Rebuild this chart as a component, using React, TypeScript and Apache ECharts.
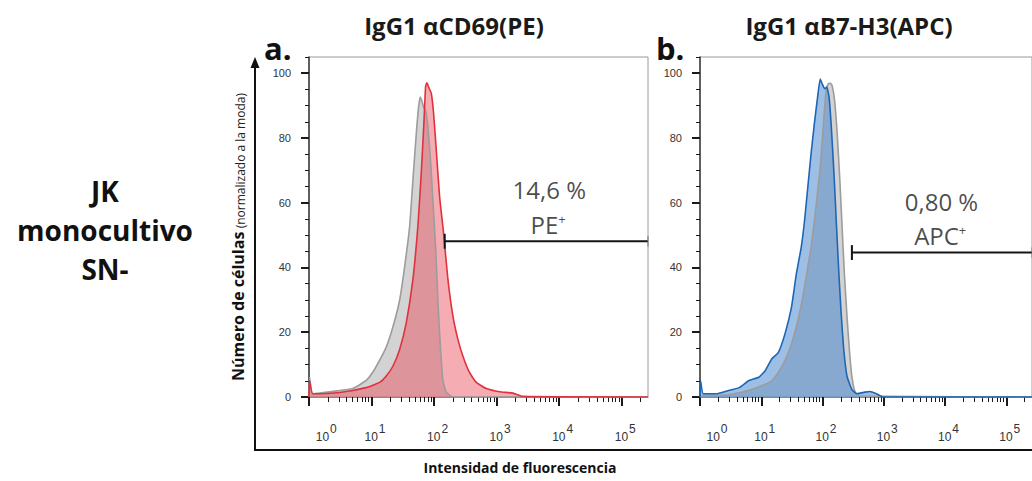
import React, { useEffect, useRef } from "react";
import * as echarts from "echarts";

// ---- data (x in log-decade display units, y in % of mode) ----
const X_MAX = 5.42;
const Y_MAX = 105;
const xMajorTicks = [0, 1, 2, 3, 4, 5];
const xLabelPositions = [0.22, 1, 2, 3, 4, 5];
const xExponents = ["0", "1", "2", "3", "4", "5"];
const yMajorTicks = [0, 20, 40, 60, 80, 100];
const yMinorTicks = [5, 10, 15, 25, 30, 35, 45, 50, 55, 65, 70, 75, 85, 90, 95, 105];
const minorMultipliers = [2, 3, 4, 5, 6, 7, 8, 9];

// Panel a: IgG1 aCD69(PE)
const redAX = [0, 0.01, 0.06, 0.49, 0.915, 1.128, 1.235, 1.341, 1.448, 1.555, 1.661, 1.741, 1.795, 1.837, 1.864, 1.885, 1.917, 1.955, 1.992, 2.035, 2.088, 2.152, 2.221, 2.301, 2.381, 2.461, 2.568, 2.675, 2.835, 3.048, 3.261, 3.421, 5.42];
const redAY = [0, 5, 1, 1.4, 2.9, 4.5, 6.5, 9.5, 14.6, 22.9, 36.3, 52.8, 69.2, 84.6, 95.9, 97, 95.5, 93.8, 87.6, 76.3, 61.9, 50.6, 36.3, 25, 17.8, 12.6, 7.5, 4.5, 2.6, 1.6, 1.2, 0.2, 0];
const grayAX = [0, 0.01, 0.06, 0.49, 0.701, 0.915, 1.021, 1.128, 1.235, 1.341, 1.448, 1.528, 1.608, 1.661, 1.715, 1.752, 1.779, 1.811, 1.832, 1.864, 1.901, 1.939, 1.981, 2.024, 2.061, 2.088, 2.115, 2.141, 2.195, 2.301, 5.42];
const grayAY = [0, 6, 1, 2, 2.6, 5.1, 7.7, 11.3, 15.4, 21.6, 29.8, 40.1, 52.5, 66.9, 81.3, 89.5, 92.6, 91, 89.5, 88.5, 83.3, 74.1, 60.7, 46.3, 29.8, 19.5, 11.3, 5.1, 1.5, 0, 0];

// Panel b: IgG1 aB7-H3(APC)
const blueBX = [0, 0.01, 0.053, 0.267, 0.427, 0.64, 0.8, 0.96, 1.067, 1.173, 1.28, 1.387, 1.493, 1.573, 1.653, 1.707, 1.76, 1.813, 1.867, 1.92, 1.963, 2.0, 2.037, 2.069, 2.107, 2.144, 2.187, 2.229, 2.267, 2.304, 2.347, 2.4, 2.48, 2.56, 2.693, 2.773, 2.88, 2.987, 5.42];
const blueBY = [0, 5, 1, 1, 1.8, 2.9, 5.1, 6.1, 8.2, 11.8, 13.8, 19.5, 27.7, 38, 46.3, 54.5, 64.8, 75.1, 84.4, 92.6, 98.2, 96.5, 95.2, 95.7, 92.6, 83.3, 69.1, 52.6, 38.2, 25.9, 14.6, 6.4, 2.3, 1, 1.5, 1.7, 1, 0, 0];
const grayBX = [0, 0.053, 0.427, 0.64, 0.853, 1.067, 1.173, 1.28, 1.387, 1.493, 1.6, 1.707, 1.813, 1.893, 1.963, 2.016, 2.053, 2.091, 2.133, 2.16, 2.197, 2.24, 2.283, 2.32, 2.357, 2.4, 2.443, 2.48, 2.533, 2.613, 3.013, 5.42];
const grayBY = [0, 0.5, 0.6, 1.3, 2.4, 4, 5.1, 7.7, 11.3, 16.4, 23.7, 34, 46.3, 58.6, 71, 84.4, 93.6, 96.7, 96.9, 96, 91.6, 81.3, 66.9, 52.5, 38.1, 24.8, 13.5, 6.2, 1.5, 0.3, 0.2, 0];

// gates
const gateA = { x: [2.17, 5.42], y: 48.1, pct: "14,6 %", marker: "PE", pctPos: [3.85, 63.9], markerPos: [3.83, 53.6] };
const gateB = { x: [2.48, 5.42], y: 44.6, pct: "0,80 %", marker: "APC", pctPos: [3.95, 60.2], markerPos: [3.93, 50.3] };

const titles = ["IgG1 \u03b1CD69(PE)", "IgG1 \u03b1B7-H3(APC)"];
const panelLetters = ["a.", "b."];
const rowLabel = ["JK", "monocultivo", "SN-"];
const yTitleBold = "N\u00famero de c\u00e9lulas";
const yTitleSmall = "(normalizado a la moda)";
const xTitle = "Intensidad de fluorescencia";

const SANS = "'Open Sans', 'Noto Sans', sans-serif";
const ARIAL = "'Liberation Sans', Arial, sans-serif";

const zip = (xs: number[], ys: number[]) => xs.map((x, i) => [x, ys[i]]);

const xMinorTicks: number[] = [];
for (const d of xMajorTicks) {
  for (const m of minorMultipliers) {
    const v = d + Math.log10(m);
    if (v < X_MAX) xMinorTicks.push(v);
  }
}

function xAxes(gridIndex: number) {
  return [
    {
      type: "value", gridIndex, min: 0, max: X_MAX, position: "bottom",
      axisLine: { show: true, onZero: false, lineStyle: { color: "#8a8a8a", width: 1 } },
      axisTick: { show: true, customValues: xMajorTicks, length: 9, lineStyle: { color: "#1a1a1a", width: 2 } },
      axisLabel: {
        show: true, customValues: xLabelPositions, margin: 33,
        formatter: (v: number) => {
          const idx = xLabelPositions.findIndex((p) => Math.abs(p - v) < 1e-6);
          return `{b|10}{s|${xExponents[idx >= 0 ? idx : 0]}}`;
        },
        rich: {
          b: { fontSize: 12, fontFamily: ARIAL, color: "#333", padding: [0, 0, 0, 7], verticalAlign: "bottom", lineHeight: 13 },
          s: { fontSize: 12, fontFamily: ARIAL, color: "#333", padding: [0, 0, 8, 1], verticalAlign: "bottom", lineHeight: 13 },
        },
      },
      splitLine: { show: false },
    },
    {
      type: "value", gridIndex, min: 0, max: X_MAX, position: "bottom",
      axisLine: { show: false, onZero: false },
      axisTick: { show: true, customValues: xMinorTicks, length: 5, lineStyle: { color: "#1a1a1a", width: 1 } },
      axisLabel: { show: false },
      splitLine: { show: false },
    },
  ];
}

function yAxes(gridIndex: number) {
  return [
    {
      type: "value", gridIndex, min: 0, max: Y_MAX, position: "left",
      axisLine: { show: true, onZero: false, lineStyle: { color: "#3a3a3a", width: 1.5 } },
      axisTick: { show: true, customValues: yMajorTicks, length: 8, lineStyle: { color: "#1a1a1a", width: 2 } },
      axisLabel: { show: true, customValues: yMajorTicks, margin: 18, fontSize: 11, fontFamily: ARIAL, color: "#333" },
      splitLine: { show: false },
    },
    {
      type: "value", gridIndex, min: 0, max: Y_MAX, position: "left",
      axisLine: { show: false, onZero: false },
      axisTick: { show: true, customValues: yMinorTicks, length: 4, lineStyle: { color: "#1a1a1a", width: 1 } },
      axisLabel: { show: false },
      splitLine: { show: false },
    },
  ];
}

function histSeries(xi: number, yi: number, data: number[][], fill: string | null, line: string | null) {
  return {
    type: "line", xAxisIndex: xi, yAxisIndex: yi, data, symbol: "none", smooth: 0.15, silent: true,
    lineStyle: line ? { color: line, width: 1.6 } : { width: 0, opacity: 0 },
    areaStyle: fill ? { color: fill, opacity: 1 } : undefined,
  };
}

function gateSeries(xi: number, yi: number, g: typeof gateA) {
  const capH = 2.3;
  return [
    { type: "line", xAxisIndex: xi, yAxisIndex: yi, symbol: "none", silent: true, data: [[g.x[0], g.y], [g.x[1], g.y]], lineStyle: { color: "#151515", width: 2 } },
    { type: "line", xAxisIndex: xi, yAxisIndex: yi, symbol: "none", silent: true, data: [[g.x[0], g.y - capH], [g.x[0], g.y + capH]], lineStyle: { color: "#151515", width: 2 } },
    { type: "line", xAxisIndex: xi, yAxisIndex: yi, symbol: "none", silent: true, data: [[g.x[1], g.y - 1.6], [g.x[1], g.y + 1.6]], lineStyle: { color: "#777", width: 1 } },
    {
      type: "scatter", xAxisIndex: xi, yAxisIndex: yi, symbolSize: 1, silent: true, itemStyle: { color: "rgba(0,0,0,0)" },
      data: [
        { value: g.pctPos, label: { formatter: g.pct } },
        { value: g.markerPos, label: { formatter: `{a|${g.marker}}{s|+}` } },
      ],
      label: {
        show: true, position: [0, 0], align: "center", verticalAlign: "middle",
        fontSize: 24, fontFamily: SANS, color: "#1c1c1c",
        rich: {
          a: { fontSize: 24, fontFamily: SANS, color: "#1c1c1c", verticalAlign: "bottom", lineHeight: 28 },
          s: { fontSize: 13, fontFamily: SANS, color: "#1c1c1c", verticalAlign: "bottom", padding: [0, 0, 11, 0], lineHeight: 14 },
        },
      },
    },
  ];
}

export default function App() {
  const ref = useRef<HTMLDivElement>(null);
  useEffect(() => {
    if (!ref.current) return;
    const chart = echarts.init(ref.current, null, { renderer: "svg" });
    chart.setOption({
      animation: false,
      backgroundColor: "#ffffff",
      grid: [
        { left: 309, top: 57, right: 384, bottom: 84, show: true, borderColor: "#9a9a9a", borderWidth: 1 },
        { left: 700, top: 57, right: -7, bottom: 84, show: true, borderColor: "#9a9a9a", borderWidth: 1 },
      ],
      xAxis: [...xAxes(0), ...xAxes(1)],
      yAxis: [...yAxes(0), ...yAxes(1)],
      series: [
        histSeries(0, 0, zip(grayAX, grayAY), "rgba(150,150,150,0.42)", null),
        histSeries(0, 0, zip(redAX, redAY), "rgba(232,70,84,0.45)", null),
        histSeries(0, 0, zip(grayAX, grayAY), null, "#9c9c9c"),
        histSeries(0, 0, zip(redAX, redAY), null, "#e0323c"),
        ...gateSeries(0, 0, gateA),
        histSeries(2, 2, zip(grayBX, grayBY), "rgba(150,150,150,0.42)", null),
        histSeries(2, 2, zip(blueBX, blueBY), "rgba(60,128,205,0.5)", null),
        histSeries(2, 2, zip(grayBX, grayBY), null, "#9c9c9c"),
        histSeries(2, 2, zip(blueBX, blueBY), null, "#1d66b5"),
        ...gateSeries(2, 2, gateB),
      ],
      graphic: [
        { type: "text", x: 454, y: 25, style: { text: titles[0], fill: "#1a1a1a", font: `bold 24px ${SANS}`, align: "center", verticalAlign: "middle" } },
        { type: "text", x: 849, y: 25, style: { text: titles[1], fill: "#1a1a1a", font: `bold 24px ${SANS}`, align: "center", verticalAlign: "middle" } },
        { type: "text", x: 264, y: 48, style: { text: panelLetters[0], fill: "#111", font: `bold 31px ${SANS}`, align: "left", verticalAlign: "middle" } },
        { type: "text", x: 656, y: 48, style: { text: panelLetters[1], fill: "#111", font: `bold 31px ${SANS}`, align: "left", verticalAlign: "middle" } },
        { type: "text", x: 105, y: 230, style: { text: rowLabel.join("\n"), fill: "#111", font: `bold 28px ${SANS}`, lineHeight: 39, align: "center", verticalAlign: "middle" } },
        {
          type: "text", x: 236, y: 237, rotation: Math.PI / 2,
          style: {
            text: `{b|${yTitleBold}} {s|${yTitleSmall}}`, align: "center", verticalAlign: "middle",
            rich: {
              b: { font: `bold 16px ${SANS}`, fill: "#111", verticalAlign: "bottom", lineHeight: 20 },
              s: { font: `12px ${SANS}`, fill: "#222", verticalAlign: "bottom", lineHeight: 18 },
            },
          },
        },
        { type: "text", x: 520, y: 467, style: { text: xTitle, fill: "#111", font: `bold 14px ${SANS}`, align: "center", verticalAlign: "middle" } },
        { type: "line", shape: { x1: 255, y1: 451, x2: 255, y2: 66 }, style: { stroke: "#111", lineWidth: 2 } },
        { type: "line", shape: { x1: 254, y1: 450, x2: 1032, y2: 450 }, style: { stroke: "#111", lineWidth: 2 } },
        { type: "polygon", shape: { points: [[255, 57], [250.5, 68], [259.5, 68]] }, style: { fill: "#111" } },
      ],
    });
    return () => chart.dispose();
  }, []);
  return (
    <div
      ref={ref}
      style={{ position: "fixed", left: 0, top: 0, width: 1032, height: 481, background: "#fff" }}
    />
  );
}
